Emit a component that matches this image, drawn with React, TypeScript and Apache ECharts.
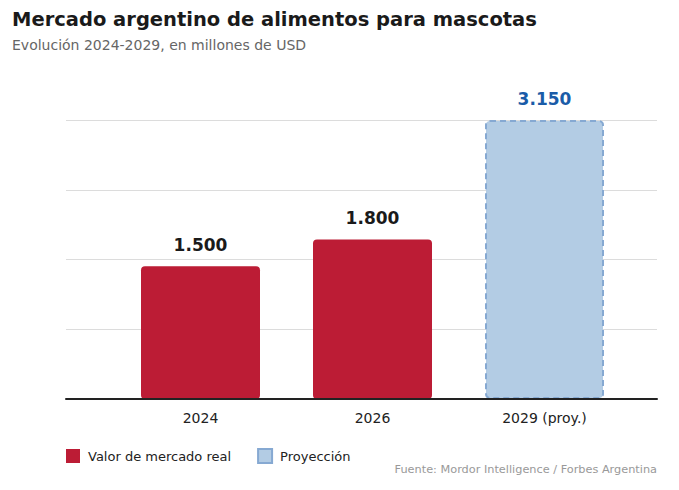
import React, { useEffect, useRef } from "react";
import * as echarts from "echarts";

const categories = ["2024", "2026", "2029 (proy.)"];
const realValues: (number | string)[] = [1500, 1800, "-"];
const projValues: (number | string)[] = ["-", "-", 3150];
const realName = "Valor de mercado real";
const projName = "Proyección";
const titleText = "Mercado argentino de alimentos para mascotas";
const subtitleText = "Evolución 2024-2029, en millones de USD";
const sourceText = "Fuente: Mordor Intelligence / Forbes Argentina";
const yMax = 3150;
const yInterval = 787.5;

const FONT = "DejaVu Sans";
const fmt = (v: number) => v.toLocaleString("de-DE");

export default function App() {
  const ref = useRef<HTMLDivElement>(null);
  useEffect(() => {
    document.body.style.margin = "0";
    const chart = echarts.init(ref.current!, null, { renderer: "svg" });
    chart.setOption({
      animation: false,
      textStyle: { fontFamily: FONT },
      grid: [
        { left: 66, right: 22, top: 120, bottom: 91 },
        { left: 114.5, right: 48.5, top: 120, bottom: 91 },
      ],
      xAxis: [
        {
          type: "category",
          gridIndex: 0,
          data: [""],
          axisLine: { show: true, lineStyle: { color: "#222", width: 2 } },
          axisTick: { show: false },
          axisLabel: { show: false },
          z: 5,
        },
        {
          type: "category",
          gridIndex: 1,
          data: categories,
          axisLine: { show: false },
          axisTick: { show: false },
          axisLabel: { color: "#222", fontSize: 14, margin: 12, fontFamily: FONT },
        },
      ],
      yAxis: [
        {
          type: "value",
          gridIndex: 0,
          min: 0,
          max: yMax,
          interval: yInterval,
          axisLabel: { show: false },
          axisLine: { show: false },
          axisTick: { show: false },
          splitLine: { lineStyle: { color: "#dcdcdc", width: 1 } },
        },
        {
          type: "value",
          gridIndex: 1,
          min: 0,
          max: yMax,
          interval: yInterval,
          axisLabel: { show: false },
          axisLine: { show: false },
          axisTick: { show: false },
          splitLine: { show: false },
        },
      ],
      legend: {
        left: 66,
        top: 448,
        padding: 0,
        itemWidth: 14,
        itemHeight: 14,
        itemGap: 26,
        icon: "rect",
        textStyle: { color: "#222", fontSize: 13, fontFamily: FONT, padding: [0, 0, 0, 3] },
        data: [realName, projName],
      },
      series: [
        {
          name: realName,
          type: "bar",
          xAxisIndex: 1,
          yAxisIndex: 1,
          data: realValues,
          barWidth: 119,
          barGap: "-100%",
          itemStyle: { color: "#bc1c35", borderRadius: 4 },
          label: {
            show: true,
            position: "top",
            distance: 13,
            color: "#1a1a1a",
            fontSize: 17,
            fontWeight: "bold",
            fontFamily: FONT,
            formatter: (p: any) => fmt(p.value),
          },
        },
        {
          name: projName,
          type: "bar",
          xAxisIndex: 1,
          yAxisIndex: 1,
          data: projValues,
          barWidth: 119,
          barGap: "-100%",
          itemStyle: {
            color: "#b3cce4",
            borderColor: "#86a9d2",
            borderWidth: 2,
            borderType: [6, 4],
            borderRadius: 4,
          },
          label: {
            show: true,
            position: "top",
            distance: 13,
            color: "#1a5ca8",
            fontSize: 17,
            fontWeight: "bold",
            fontFamily: FONT,
            formatter: (p: any) => fmt(p.value),
          },
        },
      ],
      graphic: [
        {
          type: "text",
          left: 12,
          top: 9,
          style: { text: titleText, fontSize: 19.5, fontWeight: "bold", fill: "#1a1a1a", fontFamily: FONT },
        },
        {
          type: "text",
          left: 12,
          top: 38,
          style: { text: subtitleText, fontSize: 14, fill: "#666", fontFamily: FONT },
        },
        {
          type: "text",
          right: 22,
          top: 464,
          style: { text: sourceText, fontSize: 11.3, fill: "#999", fontFamily: FONT },
        },
      ],
    });
    return () => chart.dispose();
  }, []);
  return <div ref={ref} style={{ width: 679, height: 490 }} />;
}
